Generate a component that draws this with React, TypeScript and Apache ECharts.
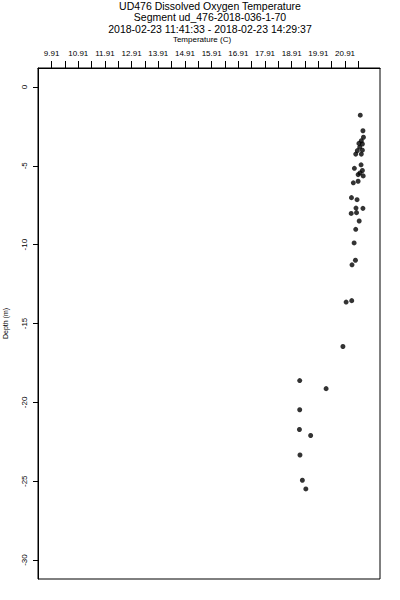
import React, { useEffect, useRef } from "react";
import * as echarts from "echarts";

const titleLines = [
  "UD476 Dissolved Oxygen Temperature",
  "Segment ud_476-2018-036-1-70",
  "2018-02-23 11:41:33 - 2018-02-23 14:29:37",
];
const xAxisTitle = "Temperature (C)";
const yAxisTitle = "Depth (m)";

const temperature = [
  21.48, 21.58, 21.60, 21.52, 21.43, 21.56, 21.46, 21.56, 21.37, 21.31,
  21.52, 21.51, 21.26, 21.56, 21.47, 21.40, 21.59, 21.40, 21.22, 21.15,
  21.36, 21.32, 21.58, 21.34, 21.14, 21.44, 21.31, 21.25, 21.30, 21.17,
  21.16, 20.95, 20.83, 19.21, 20.20, 19.21, 19.20, 19.62, 19.22, 19.31,
  19.44,
];
const depth = [
  -1.79, -2.78, -3.19, -3.41, -3.58, -3.62, -3.82, -4.01, -4.04, -4.26,
  -4.26, -4.94, -5.16, -5.30, -5.46, -5.56, -5.64, -5.98, -6.08, -7.02,
  -7.15, -7.68, -7.70, -7.97, -8.02, -8.50, -9.03, -9.89, -10.99, -11.28,
  -13.55, -13.64, -16.46, -18.62, -19.13, -20.47, -21.72, -22.10, -23.34, -24.94,
  -25.49,
];

const xTickValues = [
  9.91, 10.41, 10.91, 11.41, 11.91, 12.41, 12.91, 13.41, 13.91, 14.41, 14.91,
  15.41, 15.91, 16.41, 16.91, 17.41, 17.91, 18.41, 18.91, 19.41, 19.91, 20.41,
  20.91, 21.41,
];
const xLabelValues = [
  9.91, 10.91, 11.91, 12.91, 13.91, 14.91, 15.91, 16.91, 17.91, 18.91, 19.91,
  20.91,
];
const yTickValues = [0, -5, -10, -15, -20, -25, -30];

const FONT = "'Liberation Sans', Arial, sans-serif";

export default function App() {
  const ref = useRef<HTMLDivElement>(null);
  useEffect(() => {
    if (!ref.current) return;
    const chart = echarts.init(ref.current, undefined, { renderer: "svg" });
    const points = temperature.map((t, i) => [t, depth[i]]);
    chart.setOption({
      animation: false,
      backgroundColor: "#fff",
      textStyle: { fontFamily: FONT, color: "#000" },
      title: {
        text: titleLines.join("\n"),
        left: 210,
        top: 0,
        textAlign: "center",
        textStyle: {
          fontFamily: FONT,
          fontSize: 10.5,
          fontWeight: "normal",
          color: "#000",
          lineHeight: 11.5,
        },
        padding: 0,
      },
      grid: {
        left: 38,
        top: 68,
        right: 20,
        bottom: 21,
        outerBoundsMode: "none",
        containLabel: false,
        show: true,
        borderColor: "#000",
        borderWidth: 1,
        backgroundColor: "transparent",
      },
      xAxis: {
        type: "value",
        position: "top",
        min: 9.4,
        max: 22.22,
        name: xAxisTitle,
        nameLocation: "middle",
        nameGap: 25,
        nameTextStyle: {
          fontFamily: FONT,
          fontSize: 8,
          color: "#000",
          padding: [0, 14, 0, 0],
        },
        axisLine: {
          show: true,
          onZero: false,
          lineStyle: { color: "#000", width: 1 },
        },
        axisTick: {
          show: true,
          length: 7,
          customValues: xTickValues,
          lineStyle: { color: "#000", width: 1 },
        },
        axisLabel: {
          customValues: xLabelValues,
          formatter: (v: number) => v.toFixed(2),
          fontFamily: FONT,
          fontSize: 8,
          color: "#000",
          margin: 11,
        },
        splitLine: { show: false },
      },
      yAxis: {
        type: "value",
        min: -31.2,
        max: 1.2,
        name: yAxisTitle,
        nameLocation: "middle",
        nameGap: 29,
        nameRotate: 90,
        nameTextStyle: { fontFamily: FONT, fontSize: 7, color: "#000" },
        axisLine: {
          show: true,
          onZero: false,
          lineStyle: { color: "#000", width: 1 },
        },
        axisTick: {
          show: true,
          length: 5,
          customValues: yTickValues,
          lineStyle: { color: "#000", width: 1 },
        },
        axisLabel: {
          customValues: yTickValues,
          rotate: 90,
          fontFamily: FONT,
          fontSize: 8,
          color: "#000",
          margin: 10,
        },
        splitLine: { show: false },
      },
      series: [
        {
          type: "scatter",
          data: points,
          symbol: "circle",
          symbolSize: 5,
          itemStyle: { color: "#000" },
        },
      ],
    });
    return () => chart.dispose();
  }, []);
  return (
    <div
      ref={ref}
      style={{ position: "fixed", left: 0, top: 0, width: 400, height: 600 }}
    />
  );
}
